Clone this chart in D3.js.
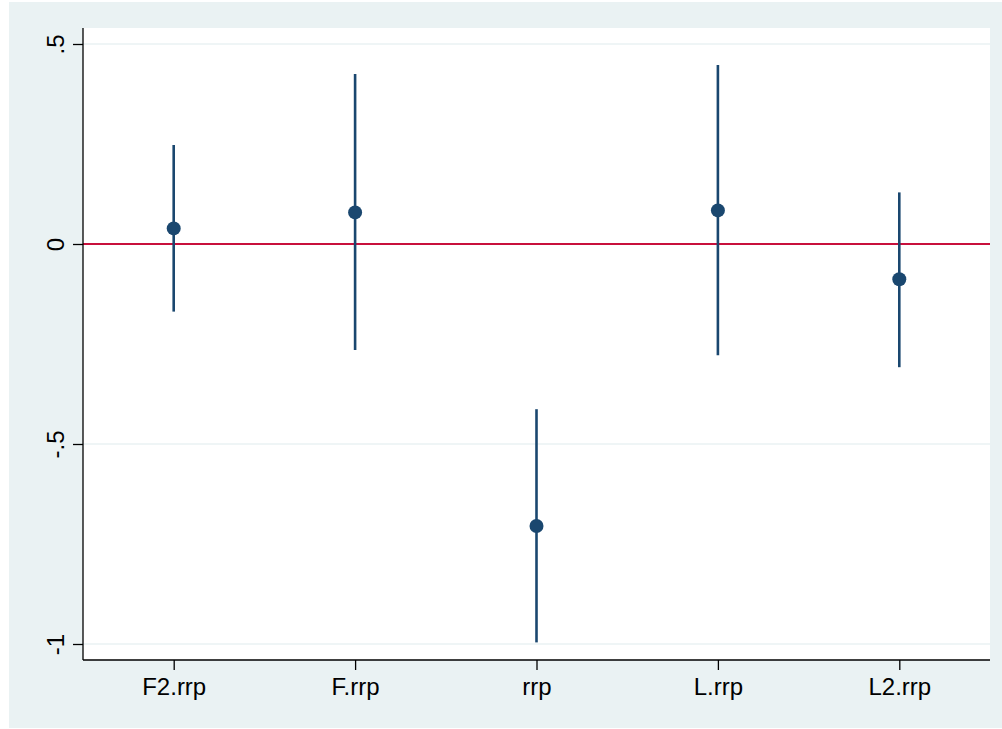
<!DOCTYPE html>
<html>
<head>
<meta charset="utf-8">
<script src="https://cdn.jsdelivr.net/npm/d3@7"></script>
<style>
  html, body { margin: 0; padding: 0; background: #ffffff; }
  svg { display: block; font-family: "Liberation Sans", Arial, Helvetica, sans-serif; }
</style>
</head>
<body>
<svg id="chart" width="1002" height="729"></svg>
<script>
// Coefficient estimates with 95% confidence intervals
const terms     = ["F2.rrp", "F.rrp", "rrp", "L.rrp", "L2.rrp"];
const estimates = [0.039, 0.079, -0.705, 0.084, -0.088];
const ciLower   = [-0.169, -0.265, -0.996, -0.278, -0.308];
const ciUpper   = [0.2475, 0.425, -0.413, 0.4475, 0.129];
const yTicks    = [-1, -0.5, 0, 0.5];
const yTickText = ["-1", "-.5", "0", ".5"];

const rows = terms.map((t, i) => ({ term: t, b: estimates[i], lo: ciLower[i], hi: ciUpper[i] }));

const svg = d3.select("#chart");
const W = 1002, H = 729;
const plot = { left: 83, right: 990, top: 28, bottom: 660 };

const bg = "#eaf2f3";
const navy = "#1a476f";

// outer graph region
svg.append("rect").attr("x", 9).attr("y", 2).attr("width", W - 9).attr("height", 726).attr("fill", bg);
// plot region
svg.append("rect").attr("x", plot.left).attr("y", plot.top)
  .attr("width", plot.right - plot.left).attr("height", plot.bottom - plot.top).attr("fill", "#ffffff");

const x = d3.scalePoint().domain(terms).range([plot.left, plot.right]).padding(0.5);
const y = d3.scaleLinear().domain([-1.04, 0.54]).range([plot.bottom, plot.top]);

// horizontal grid lines
svg.append("g").selectAll("line").data(yTicks).join("line")
  .attr("x1", plot.left).attr("x2", plot.right)
  .attr("y1", d => y(d)).attr("y2", d => y(d))
  .attr("stroke", bg).attr("stroke-width", 1.6);

// reference line at zero
svg.append("line")
  .attr("x1", plot.left).attr("x2", plot.right)
  .attr("y1", y(0)).attr("y2", y(0))
  .attr("stroke", "#c8103c").attr("stroke-width", 2);

// y axis
const yAxis = d3.axisLeft(y).tickValues(yTicks).tickSize(10).tickPadding(18)
  .tickFormat((d, i) => yTickText[i]);
const gy = svg.append("g").attr("transform", `translate(${plot.left},0)`).call(yAxis);
gy.select(".domain").attr("d", `M0,${plot.top}V${plot.bottom}`).attr("stroke", "#000").attr("stroke-width", 1.3);
gy.selectAll(".tick line").attr("stroke", "#000").attr("stroke-width", 1.3);
gy.selectAll(".tick text")
  .attr("font-size", 24).attr("fill", "#000")
  .attr("text-anchor", "middle")
  .attr("x", null).attr("dy", null)
  .attr("transform", "translate(-28,0) rotate(-90)")
  .attr("dominant-baseline", "central");

// x axis
const xAxis = d3.axisBottom(x).tickSize(10).tickPadding(8);
const gx = svg.append("g").attr("transform", `translate(0,${plot.bottom})`).call(xAxis);
gx.select(".domain").attr("d", `M${plot.left},0H${plot.right}`).attr("stroke", "#000").attr("stroke-width", 1.3);
gx.selectAll(".tick line").attr("stroke", "#000").attr("stroke-width", 1.3);
gx.selectAll(".tick text").attr("font-size", 24).attr("fill", "#000").attr("dy", "0.72em");

// confidence intervals
svg.append("g").selectAll("line").data(rows).join("line")
  .attr("x1", d => x(d.term)).attr("x2", d => x(d.term))
  .attr("y1", d => y(d.lo)).attr("y2", d => y(d.hi))
  .attr("stroke", navy).attr("stroke-width", 2.6);

// point estimates
svg.append("g").selectAll("circle").data(rows).join("circle")
  .attr("cx", d => x(d.term)).attr("cy", d => y(d.b))
  .attr("r", 7).attr("fill", navy);
</script>
</body>
</html>
